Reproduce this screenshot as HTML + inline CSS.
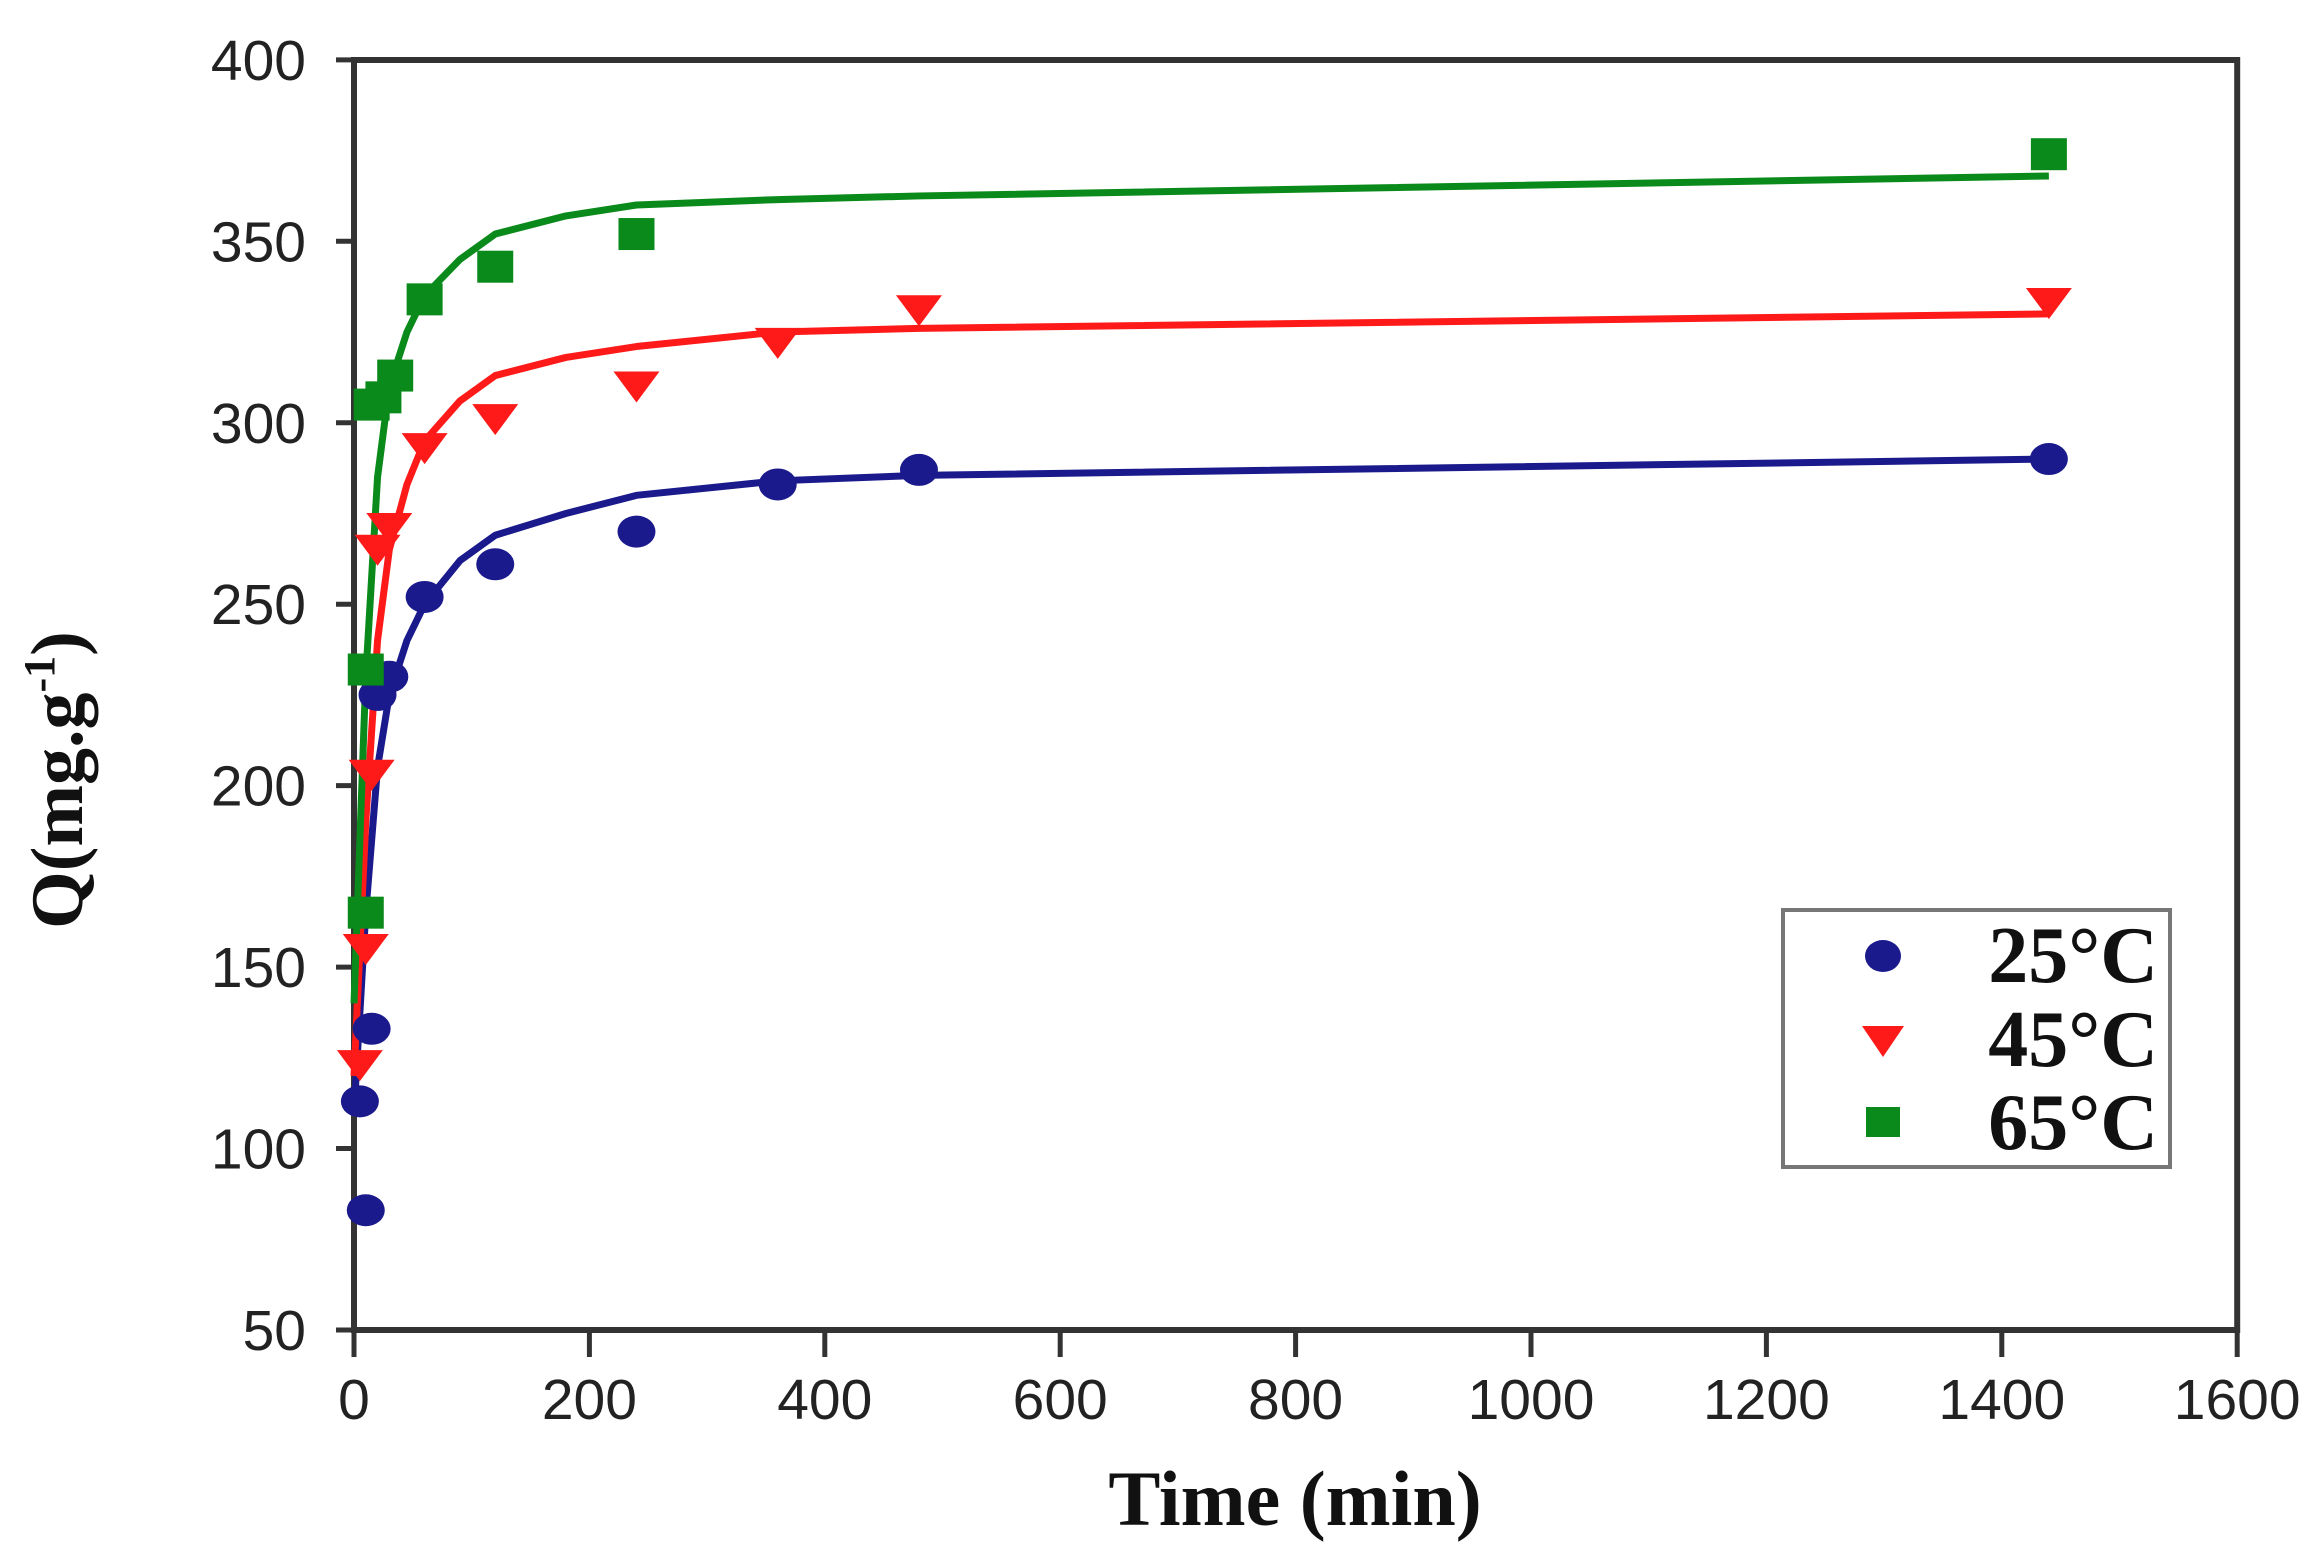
<!DOCTYPE html>
<html><head><meta charset="utf-8"><style>
html,body{margin:0;padding:0;background:#fff;}
svg{display:block}
</style></head><body>
<svg id="s" width="2324" height="1558" xmlns="http://www.w3.org/2000/svg">
<rect width="2324" height="1558" fill="#fff"/>
</svg>
<script>
const s=document.getElementById('s');
const NS='http://www.w3.org/2000/svg';
function X(t){return 354+t*1.177;}
function Y(q){return 1330-(q-50)*3.629;}
function el(n,a,txt){const e=document.createElementNS(NS,n);for(const k in a)e.setAttribute(k,a[k]);if(txt!==undefined)e.textContent=txt;s.appendChild(e);return e;}
el('rect',{x:354,y:60,width:X(1600)-354,height:1270,fill:'none',stroke:'#333',"stroke-width":6});
for(let q=50;q<=400;q+=50){const y=Y(q);el('line',{x1:336,y1:y,x2:354,y2:y,stroke:'#333',"stroke-width":5});
el('text',{x:306,y:y+20,"text-anchor":"end","font-family":"Liberation Sans, sans-serif","font-size":57,fill:'#222'},q);}
for(let t=0;t<=1600;t+=200){const x=X(t);el('line',{x1:x,y1:1330,x2:x,y2:1357,stroke:'#333',"stroke-width":5});
el('text',{x:x,y:1419,"text-anchor":"middle","font-family":"Liberation Sans, sans-serif","font-size":57,fill:'#222'},t);}
el('text',{x:1295,y:1525,"text-anchor":"middle","font-family":"Liberation Serif, serif","font-size":78,"font-weight":"bold",fill:'#111'},'Time (min)');
const yl=el('text',{x:0,y:0,"text-anchor":"middle","font-family":"Liberation Serif, serif","font-size":74,"font-weight":"bold",fill:'#111',transform:'translate(82,780) rotate(-90)'});
yl.innerHTML='Q(mg.g<tspan dy="-28" font-size="44">-1</tspan><tspan dy="28">)</tspan>';
const fits={
 '#1a1a8c':[[0,110],[10,165],[20,205],[30,225],[45,240],[60,250],[90,262],[120,269],[180,275],[240,280],[360,284],[480,285.5],[1440,290]],
 '#ff1a1a':[[0,120],[10,190],[20,240],[30,265],[45,283],[60,295],[90,306],[120,313],[180,318],[240,321],[360,325],[480,326],[1440,330]],
 '#0a8a1a':[[0,140],[10,230],[20,285],[30,310],[45,325],[60,335],[90,345],[120,352],[180,357],[240,360],[360,361.5],[480,362.5],[1440,368]]
};
for(const c in fits){el('polyline',{points:fits[c].map(p=>X(p[0])+','+Y(p[1])).join(' '),fill:'none',stroke:c,"stroke-width":7,"stroke-linejoin":"round"});}
function circ(t,q){el('ellipse',{cx:X(t),cy:Y(q),rx:19,ry:16,fill:'#1a1a8c'});}
function tri(t,q){const x=X(t),y=Y(q);el('polygon',{points:`${x-23},${y-15} ${x+23},${y-15} ${x},${y+16}`,fill:'#ff1a1a'});}
function sq(t,q){const x=X(t),y=Y(q);el('rect',{x:x-18,y:y-16,width:36,height:32,fill:'#0a8a1a'});}
[[5,113],[10,83],[15,133],[20,225],[30,230],[60,252],[120,261],[240,270],[360,283],[480,287],[1440,290]].forEach(p=>circ(...p));
[[5,123],[10,155],[15,203],[20,265],[30,271],[60,293],[120,301],[240,310],[360,322],[480,331],[1440,333]].forEach(p=>tri(...p));
[[10,165],[10,232],[15,305],[25,307],[35,313],[60,334],[120,343],[240,352],[1440,374]].forEach(p=>sq(...p));
el('rect',{x:1783,y:910,width:387,height:257,fill:'#fff',stroke:'#777',"stroke-width":4});
el('ellipse',{cx:1883,cy:956,rx:18,ry:16,fill:'#1a1a8c'});
el('polygon',{points:'1862,1026 1904,1026 1883,1057',fill:'#ff1a1a'});
el('rect',{x:1866,y:1107,width:34,height:30,fill:'#0a8a1a'});
[['25°C',982],['45°C',1066],['65°C',1149]].forEach(a=>el('text',{x:2158,y:a[1],"text-anchor":"end","font-family":"Liberation Serif, serif","font-size":80,"font-weight":"bold",fill:'#111'},a[0]));
</script>
</body></html>
